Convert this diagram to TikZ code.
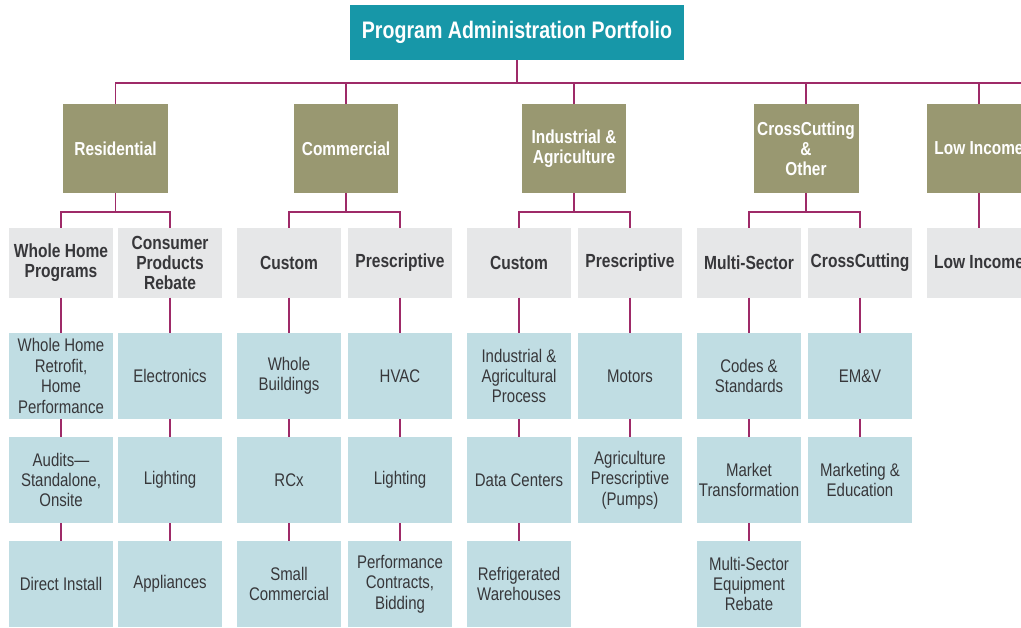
\documentclass[tikz,border=0pt]{standalone}
\usepackage{fontspec}
\setmainfont{Liberation Sans}[FakeStretch=0.82]

\definecolor{titleteal}{RGB}{23,151,168}
\definecolor{sectorolive}{RGB}{153,152,113}
\definecolor{groupgray}{RGB}{230,231,232}
\definecolor{leafblue}{RGB}{192,221,227}
\definecolor{linkplum}{RGB}{158,42,104}
\definecolor{textgray}{RGB}{55,55,58}

\tikzset{
  portfolio/.style={rectangle, fill=titleteal, text=white, inner sep=0pt, outer sep=0pt,
    minimum width=6.7cm, minimum height=1.1cm, font=\fontsize{13.6}{16}\selectfont\bfseries},
  sector/.style={rectangle, fill=sectorolive, text=white, inner sep=0pt, outer sep=0pt, align=center,
    minimum width=2.1cm, minimum height=1.78cm, font=\fontsize{10.7}{11.4}\selectfont\bfseries},
  group/.style={rectangle, fill=groupgray, text=textgray, inner sep=0pt, outer sep=0pt, align=center,
    minimum width=2.08cm, minimum height=1.4cm, font=\fontsize{10.8}{11.4}\selectfont\bfseries},
  leaf/.style={rectangle, fill=leafblue, text=textgray, inner sep=0pt, outer sep=0pt, align=center,
    minimum width=2.08cm, minimum height=1.72cm, font=\fontsize{10.4}{11.6}\selectfont},
  link/.style={draw=linkplum, line width=1.1pt}
}

\begin{document}
\begin{tikzpicture}[x=0.02cm, y=-0.02cm]
  \useasboundingbox (0,0) rectangle (1021,627);

  % Top of the tree
  \node[portfolio] (pap) at (517,32.5) {Program Administration Portfolio};
  \coordinate (busend) at (1040,83);

  % Sectors
  \node[sector] (res) at (115.5,148.5) {Residential};
  \node[sector] (com) at (346,148.5) {Commercial};
  \node[sector] (ind) at (574,148.5) {Industrial \&\\Agriculture};
  \node[sector] (cro) at (806,148.5) {CrossCutting\\\&\\Other};
  \node[sector] (low) at (979,148.5) {Low Income};

  % Program groups
  \node[group] (whp) at (61,262.5) {Whole Home\\Programs};
  \node[group] (cpr) at (170,262.5) {Consumer\\Products\\Rebate};
  \node[group] (ccu) at (289,262.5) {Custom};
  \node[group] (cpe) at (400,262.5) {Prescriptive};
  \node[group] (icu) at (519,262.5) {Custom};
  \node[group] (ipe) at (630,262.5) {Prescriptive};
  \node[group] (mse) at (749,262.5) {Multi-Sector};
  \node[group] (ccg) at (860,262.5) {CrossCutting};
  \node[group] (lig) at (979,262.5) {Low Income};

  % Programs, first row
  \node[leaf] (whr) at (61,376) {Whole Home\\Retrofit,\\Home\\Performance};
  \node[leaf] (ele) at (170,376) {Electronics};
  \node[leaf] (wbu) at (289,376) {Whole\\Buildings};
  \node[leaf] (hva) at (400,376) {HVAC};
  \node[leaf] (iap) at (519,376) {Industrial \&\\Agricultural\\Process};
  \node[leaf] (mot) at (630,376) {Motors};
  \node[leaf] (cst) at (749,376) {Codes \&\\Standards};
  \node[leaf] (emv) at (860,376) {EM\&V};

  % Programs, second row
  \node[leaf] (aud) at (61,480) {Audits—\\Standalone,\\Onsite};
  \node[leaf] (rli) at (170,480) {Lighting};
  \node[leaf] (rcx) at (289,480) {RCx};
  \node[leaf] (cli) at (400,480) {Lighting};
  \node[leaf] (dac) at (519,480) {Data Centers};
  \node[leaf] (agp) at (630,480) {Agriculture\\Prescriptive\\(Pumps)};
  \node[leaf] (mkt) at (749,480) {Market\\Transformation};
  \node[leaf] (med) at (860,480) {Marketing \&\\Education};

  % Programs, third row
  \node[leaf] (din) at (61,584) {Direct Install};
  \node[leaf] (app) at (170,584) {Appliances};
  \node[leaf] (smc) at (289,584) {Small\\Commercial};
  \node[leaf] (pcb) at (400,584) {Performance\\Contracts,\\Bidding};
  \node[leaf] (rwh) at (519,584) {Refrigerated\\Warehouses};
  \node[leaf] (mer) at (749,584) {Multi-Sector\\Equipment\\Rebate};

  % Bus from the portfolio to the sectors
  \draw[link] (pap.south) -- (pap.south |- busend);
  \draw[link] (res.north) |- (busend);
  \draw[link] (com.north) -- (com.north |- busend);
  \draw[link] (ind.north) -- (ind.north |- busend);
  \draw[link] (cro.north) -- (cro.north |- busend);
  \draw[link] (low.north) -- (low.north |- busend);

  % Sectors to groups
  \draw[link] (res.south) -- ++(0,19) coordinate (resj);
  \draw[link] (whp.north) |- (resj) -| (cpr.north);
  \draw[link] (com.south) -- ++(0,19) coordinate (comj);
  \draw[link] (ccu.north) |- (comj) -| (cpe.north);
  \draw[link] (ind.south) -- ++(0,19) coordinate (indj);
  \draw[link] (icu.north) |- (indj) -| (ipe.north);
  \draw[link] (cro.south) -- ++(0,19) coordinate (croj);
  \draw[link] (mse.north) |- (croj) -| (ccg.north);
  \draw[link] (low.south) -- (lig.north);

  % Groups down to programs
  \draw[link] (whp) -- (whr) (whr) -- (aud) (aud) -- (din);
  \draw[link] (cpr) -- (ele) (ele) -- (rli) (rli) -- (app);
  \draw[link] (ccu) -- (wbu) (wbu) -- (rcx) (rcx) -- (smc);
  \draw[link] (cpe) -- (hva) (hva) -- (cli) (cli) -- (pcb);
  \draw[link] (icu) -- (iap) (iap) -- (dac) (dac) -- (rwh);
  \draw[link] (ipe) -- (mot) (mot) -- (agp);
  \draw[link] (mse) -- (cst) (cst) -- (mkt) (mkt) -- (mer);
  \draw[link] (ccg) -- (emv) (emv) -- (med);
\end{tikzpicture}
\end{document}
